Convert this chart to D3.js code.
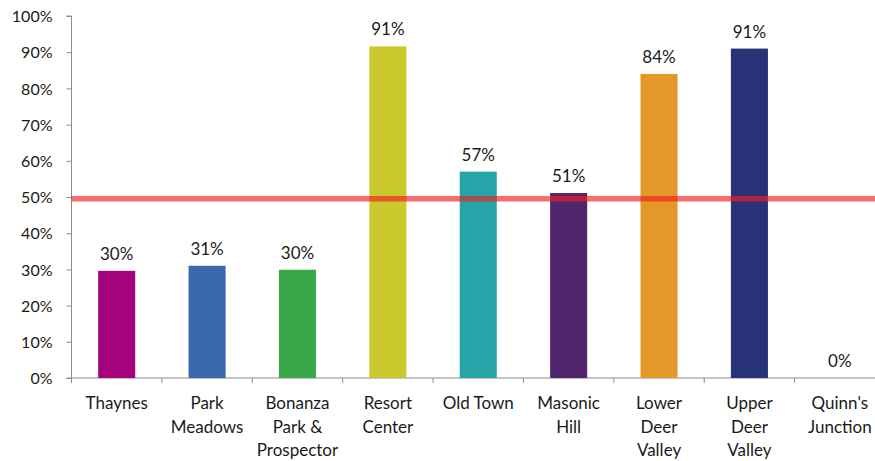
<!DOCTYPE html>
<html lang="en">
<head>
  <meta charset="UTF-8">
  <title>Share by area</title>
  <script src="https://d3js.org/d3.v7.min.js"></script>
  <style>
    body { margin: 0; background: white; }
    text {
      font-family: Lato, 'Open Sans', sans-serif;
      font-size: 17px;
      fill: #1a1a1a;
    }
    .ytick text { font-size: 16px; }
  </style>
</head>
<body>
  <svg width="875" height="461"></svg>

  <script>
    // The data
    const categories = ["Thaynes", "Park\nMeadows", "Bonanza\nPark &\nProspector", "Resort\nCenter",
      "Old Town", "Masonic\nHill", "Lower\nDeer\nValley", "Upper\nDeer\nValley", "Quinn's\nJunction"];
    const values = [29.6, 31, 29.9, 91.6, 57, 51.1, 84, 91, 0];
    const valueLabels = ["30%", "31%", "30%", "91%", "57%", "51%", "84%", "91%", "0%"];
    const colors = ["#a5027d", "#3b67ae", "#38a84a", "#cbc82d", "#26a5a8", "#4f266c", "#e5982a", "#283377", "#999999"];
    const yTicks = [0, 10, 20, 30, 40, 50, 60, 70, 80, 90, 100];
    const targetLine = 49.5;

    const svg = d3.select("svg");
    const m = { left: 71.5, right: 885, top: 16, bottom: 378 };

    const x = d3.scaleBand().domain(categories).range([m.left, m.right]).padding(0);
    const y = d3.scaleLinear().domain([0, 100]).range([m.bottom, m.top]);
    const barW = x.bandwidth() * 0.41;

    // Y axis
    const yAxis = svg.append("g")
      .attr("class", "ytick")
      .attr("transform", "translate(" + m.left + ",0)")
      .call(d3.axisLeft(y).tickValues(yTicks).tickFormat(d => d + "%").tickSize(5).tickPadding(14));
    yAxis.selectAll("line, path").attr("stroke", "#8c8c8c");
    yAxis.select(".domain").attr("d", "M-5," + y(100) + "H0V" + y(0) + "H-5");
    yAxis.selectAll("text").attr("dy", "0.35em");
    yAxis.attr("font-size", null).attr("font-family", null);

    // X axis line + boundary ticks
    const xg = svg.append("g");
    xg.append("line")
      .attr("x1", m.left).attr("x2", m.right)
      .attr("y1", m.bottom).attr("y2", m.bottom)
      .attr("stroke", "#8c8c8c");
    xg.selectAll(".bt")
      .data(categories.map(c => x(c)).concat([x(categories[categories.length - 1]) + x.bandwidth()]))
      .enter().append("line")
      .attr("x1", d => d).attr("x2", d => d)
      .attr("y1", m.bottom).attr("y2", m.bottom + 5)
      .attr("stroke", "#8c8c8c");

    // Category labels
    xg.selectAll(".cat")
      .data(categories)
      .enter().append("text")
      .attr("text-anchor", "middle")
      .attr("transform", d => "translate(" + (x(d) + x.bandwidth() / 2) + "," + (m.bottom + 31) + ")")
      .each(function (d) {
        d.split("\n").forEach((line, i) => {
          d3.select(this).append("tspan").attr("x", 0).attr("y", i * 23.5).text(line);
        });
      });

    // Bars
    svg.selectAll(".bar")
      .data(values)
      .enter().append("rect")
      .attr("x", (d, i) => x(categories[i]) + (x.bandwidth() - barW) / 2)
      .attr("y", d => y(d))
      .attr("width", barW)
      .attr("height", d => y(0) - y(d))
      .attr("fill", (d, i) => colors[i]);

    // Value labels
    svg.selectAll(".val")
      .data(values)
      .enter().append("text")
      .attr("text-anchor", "middle")
      .attr("x", (d, i) => x(categories[i]) + x.bandwidth() / 2)
      .attr("y", d => y(d) - 11)
      .text((d, i) => valueLabels[i]);

    // 50% reference line
    svg.append("line")
      .attr("x1", m.left).attr("x2", 875)
      .attr("y1", y(targetLine)).attr("y2", y(targetLine))
      .attr("stroke", "rgb(240,30,30)")
      .attr("stroke-opacity", 0.65)
      .attr("stroke-width", 5.5);
  </script>
</body>
</html>
